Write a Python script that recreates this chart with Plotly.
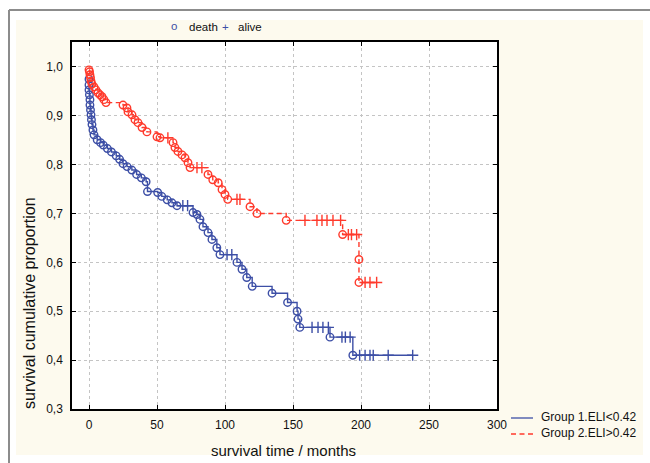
import plotly.graph_objects as go

# ---------------- data ----------------
# Group 1 (ELI<0.42) : deaths (time, survival) and censored (time, survival)
g1_death_t = [0, 0, 0, 0.3, 0.7, 0.7, 1.1, 1.5, 1.8, 2.2, 2.9, 3.7,
              6.0, 8.5, 10.5, 13.5, 16.5, 20.0, 22.5, 25.0, 28.0, 31.5, 35.0,
              38.5, 42.0, 43.0, 50.5, 53.5, 57.5, 61.0, 64.7,
              76.5, 79.4, 81.6, 83.8, 87.5, 90.4, 94.0, 96.3,
              108.8, 112.5, 116.0, 120.0, 134.6, 146.0, 153.0, 153.7, 155.0,
              177.2, 194.0]
g1_death_s = [0.975, 0.963, 0.953, 0.943, 0.933, 0.922, 0.912, 0.902, 0.892, 0.882, 0.871, 0.861,
              0.851, 0.845, 0.840, 0.833, 0.826, 0.818, 0.811, 0.802, 0.796, 0.789, 0.780,
              0.773, 0.765, 0.745, 0.743, 0.735, 0.728, 0.722, 0.716,
              0.702, 0.698, 0.688, 0.673, 0.661, 0.647, 0.630, 0.616,
              0.600, 0.586, 0.569, 0.551, 0.537, 0.518, 0.500, 0.484, 0.467,
              0.447, 0.410]
g1_cens_t = [69.0, 72.5, 101.5, 105.0, 164.0, 168.4, 172.0, 176.0,
             186.0, 188.5, 192.0, 199.0, 203.0, 206.6, 209.0, 220.0, 238.0]
g1_cens_s = [0.716, 0.716, 0.616, 0.616, 0.467, 0.467, 0.467, 0.467,
             0.447, 0.447, 0.447, 0.410, 0.410, 0.410, 0.410, 0.410, 0.410]

# Group 2 (ELI>0.42)
g2_death_t = [0, 0.4, 0.7, 1.1, 1.5, 2.2, 3.7, 5.1, 6.6, 8.1, 9.6, 11.0, 12.5,
              25.0, 27.9, 28.7, 31.6, 33.8, 36.0, 39.0, 42.6, 50.0, 52.2,
              61.8, 63.2, 65.4, 68.4, 70.6, 72.8, 74.3,
              87.5, 91.0, 95.0, 97.8, 100.0, 102.0,
              118.4, 123.5, 145.0, 186.5, 198.5, 198.5]
g2_death_s = [0.994, 0.990, 0.984, 0.978, 0.971, 0.965, 0.959, 0.953, 0.947, 0.943, 0.939, 0.933, 0.927,
              0.922, 0.916, 0.908, 0.902, 0.892, 0.886, 0.876, 0.867, 0.857, 0.855,
              0.845, 0.835, 0.827, 0.820, 0.814, 0.804, 0.794,
              0.780, 0.769, 0.763, 0.749, 0.739, 0.729,
              0.714, 0.700, 0.686, 0.657, 0.606, 0.559]
g2_cens_t = [58.0, 79.4, 83.0, 108.8, 111.0, 158.8, 167.6, 171.3, 175.0, 179.4, 185.0,
             190.7, 193.0, 196.8, 203.0, 206.6, 211.5]
g2_cens_s = [0.855, 0.794, 0.794, 0.729, 0.729, 0.686, 0.686, 0.686, 0.686, 0.686, 0.686,
             0.657, 0.657, 0.657, 0.559, 0.559, 0.559]

x_ticks = [0, 50, 100, 150, 200, 250, 300]
y_ticks = [0.3, 0.4, 0.5, 0.6, 0.7, 0.8, 0.9, 1.0]

group_names = ["Group 1.ELI<0.42", "Group 2.ELI>0.42"]
BLUE = "#3d4fa6"
RED = "#ff3a2c"

# ---------------- geometry ----------------
W, H = 650, 463
L, R, T, B = 72, 497, 42, 409  # plot area in pixels


def px(xp):
    return (xp - L) / (R - L)


def py(yp):
    return (B - yp) / (B - T)


def step_curve(dt, ds, ct, cs):
    pts = sorted([(t, s) for t, s in zip(dt, ds)] + [(t, s) for t, s in zip(ct, cs)],
                 key=lambda p: (p[0], -p[1]))
    xs = [p[0] for p in pts]
    ys = [p[1] for p in pts]
    return xs, ys


fig = go.Figure()

for (dt, ds, ct, cs, col, dash) in [
    (g1_death_t, g1_death_s, g1_cens_t, g1_cens_s, BLUE, "solid"),
    (g2_death_t, g2_death_s, g2_cens_t, g2_cens_s, RED, "5px,3.5px"),
]:
    xs, ys = step_curve(dt, ds, ct, cs)
    fig.add_trace(go.Scatter(x=xs, y=ys, mode="lines", line_shape="hv",
                             line=dict(color=col, width=1.4, dash=dash),
                             showlegend=False, hoverinfo="skip"))
    fig.add_trace(go.Scatter(x=dt, y=ds, mode="markers",
                             marker=dict(symbol="circle-open", size=7.5, color=col,
                                         line=dict(width=1.4, color=col)),
                             showlegend=False))
    fig.add_trace(go.Scatter(x=ct, y=cs, mode="markers",
                             marker=dict(symbol="cross-thin-open", size=8, color=col,
                                         line=dict(width=1.4, color=col)),
                             showlegend=False))

shapes = [
    # cream panel
    dict(type="rect", xref="paper", yref="paper", x0=px(16), x1=px(643), y0=py(455), y1=py(20),
         fillcolor="#fdfaee", line=dict(width=0), layer="below"),
    # white plot area
    dict(type="rect", xref="paper", yref="paper", x0=0, x1=1, y0=0, y1=1,
         fillcolor="white", line=dict(width=0), layer="below"),
    # grey frame
    dict(type="line", xref="paper", yref="paper", x0=px(9), x1=px(652), y0=py(10), y1=py(10),
         line=dict(color="#8c8c8c", width=2)),
    dict(type="line", xref="paper", yref="paper", x0=px(9), x1=px(9), y0=py(10), y1=py(465),
         line=dict(color="#8c8c8c", width=2)),
    # bottom-right legend line samples
    dict(type="line", xref="paper", yref="paper", x0=px(511), x1=px(533), y0=py(418), y1=py(418),
         line=dict(color=BLUE, width=1.3)),
    dict(type="line", xref="paper", yref="paper", x0=px(511), x1=px(533), y0=py(434), y1=py(434),
         line=dict(color=RED, width=1.3, dash="5px,3.5px")),
]

FONT = "Liberation Sans, Arial, sans-serif"
TXT = "#111111"
ann = [
    dict(text="survival time / months", xref="paper", yref="paper", x=px(283), y=py(451),
         showarrow=False, font=dict(size=15, color=TXT, family=FONT),
         xanchor="center", yanchor="middle"),
    dict(text="survival cumulative proportion", xref="paper", yref="paper", x=px(29), y=py(303),
         showarrow=False, textangle=-90, font=dict(size=16, color=TXT, family=FONT),
         xanchor="center", yanchor="middle"),
    dict(text="o", xref="paper", yref="paper", x=px(174), y=py(26), showarrow=False,
         font=dict(size=11.5, color=BLUE, family=FONT), xanchor="center", yanchor="middle"),
    dict(text="death", xref="paper", yref="paper", x=px(187), y=py(27), showarrow=False,
         font=dict(size=11.5, color=TXT, family=FONT), xanchor="left", yanchor="middle"),
    dict(text="+", xref="paper", yref="paper", x=px(225), y=py(27), showarrow=False,
         font=dict(size=11.5, color=BLUE, family=FONT), xanchor="center", yanchor="middle"),
    dict(text="alive", xref="paper", yref="paper", x=px(236), y=py(27), showarrow=False,
         font=dict(size=11.5, color=TXT, family=FONT), xanchor="left", yanchor="middle"),
    dict(text=group_names[0], xref="paper", yref="paper", x=px(539), y=py(417), showarrow=False,
         font=dict(size=12, color=TXT, family=FONT), xanchor="left", yanchor="middle"),
    dict(text=group_names[1], xref="paper", yref="paper", x=px(539), y=py(433), showarrow=False,
         font=dict(size=12, color=TXT, family=FONT), xanchor="left", yanchor="middle"),
]

axis_common = dict(showline=True, linecolor="black", linewidth=1.5, mirror="ticks",
                   ticks="inside", ticklen=4, tickcolor="black", tickwidth=1,
                   showgrid=True, gridcolor="#c4c4c4", griddash="dot", gridwidth=1,
                   zeroline=False, tickfont=dict(size=12, color=TXT, family=FONT))

fig.update_layout(
    width=W, height=H,
    margin=dict(l=L, r=W - R, t=T, b=H - B),
    paper_bgcolor="white", plot_bgcolor="rgba(0,0,0,0)",
    separators=",.",
    showlegend=False,
    shapes=shapes, annotations=ann,
    xaxis=dict(range=[-12.5, 300], tickvals=x_ticks, ticklabelstandoff=4, **axis_common),
    yaxis=dict(range=[0.3, 1.051], tickvals=y_ticks, tickformat=".1f",
               ticklabelstandoff=5, **axis_common),
)

fig.write_html("out.html")
